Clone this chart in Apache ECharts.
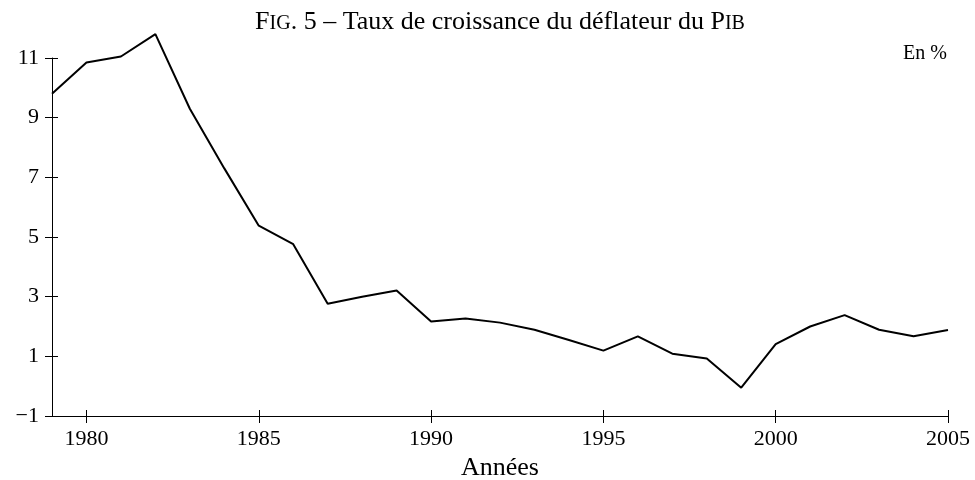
<!DOCTYPE html>
<html>
<head>
<meta charset="utf-8">
<script src="https://cdn.jsdelivr.net/npm/echarts@6/dist/echarts.min.js"></script>
<style>
  html, body { margin: 0; padding: 0; background: #fff; }
  #chart { width: 975px; height: 480px; }
</style>
</head>
<body>
<div id="chart"></div>
<script>
// Taux de croissance du déflateur du PIB, en %
const years = ['1979', '1980', '1981', '1982', '1983', '1984', '1985', '1986', '1987',
  '1988', '1989', '1990', '1991', '1992', '1993', '1994', '1995', '1996', '1997',
  '1998', '1999', '2000', '2001', '2002', '2003', '2004', '2005'];
const deflator = [9.8, 10.85, 11.05, 11.8, 9.3, 7.3, 5.38, 4.76, 2.76,
  3.0, 3.21, 2.17, 2.27, 2.13, 1.89, 1.55, 1.19, 1.67, 1.09,
  0.93, -0.05, 1.41, 2.0, 2.38, 1.89, 1.67, 1.88];
const yTicks = [-1, 1, 3, 5, 7, 9, 11];

const font = '"Liberation Serif", "DejaVu Serif", serif';
const everyFive = (i) => Number(years[i]) % 5 === 0;

const chart = echarts.init(document.getElementById('chart'));
const option = {
  animation: false,
  backgroundColor: '#fff',
  title: {
    text: '{a|F}{s|IG}{a|. 5 – Taux de croissance du déflateur du P}{s|IB}',
    left: 500,
    textAlign: 'center',
    top: 5,
    padding: 0,
    textStyle: {
      rich: {
        a: { fontFamily: font, fontSize: 26, fontWeight: 'normal', color: '#000', lineHeight: 30, verticalAlign: 'bottom' },
        s: { fontFamily: font, fontSize: 20, fontWeight: 'normal', color: '#000', lineHeight: 30, verticalAlign: 'bottom', padding: [0, 0, 1, 0] }
      }
    }
  },
  graphic: [{
    type: 'text',
    right: 28,
    top: 44,
    style: { text: 'En %', font: '20px ' + font, fill: '#000' }
  }],
  grid: { left: 52, right: 27, top: 58, bottom: 64, outerBoundsMode: 'none' },
  xAxis: [{
    type: 'category',
    data: years,
    boundaryGap: false,
    position: 'bottom',
    axisLine: { onZero: false, lineStyle: { color: '#000', width: 1 } },
    axisTick: { interval: everyFive, length: 7, lineStyle: { color: '#000' } },
    axisLabel: { interval: everyFive, margin: 12, fontFamily: font, fontSize: 22, color: '#000' },
    splitLine: { show: false },
    name: 'Années',
    nameLocation: 'middle',
    nameGap: 36,
    nameTextStyle: { fontFamily: font, fontSize: 26, color: '#000' }
  }, {
    type: 'category',
    data: years,
    boundaryGap: false,
    position: 'bottom',
    axisLine: { show: false, onZero: false },
    axisTick: { interval: everyFive, inside: true, length: 6, lineStyle: { color: '#000' } },
    axisLabel: { show: false },
    splitLine: { show: false }
  }],
  yAxis: [{
    type: 'value',
    min: -1,
    max: 11,
    interval: 2,
    position: 'left',
    axisLine: { show: true, onZero: false, lineStyle: { color: '#000', width: 1 } },
    axisTick: { show: true, length: 7, lineStyle: { color: '#000' } },
    axisLabel: {
      margin: 13, fontFamily: font, fontSize: 22, color: '#000',
      formatter: (v) => yTicks.includes(v) ? String(v).replace('-', '\u2212') : ''
    },
    splitLine: { show: false }
  }, {
    type: 'value',
    min: -1,
    max: 11,
    interval: 2,
    position: 'left',
    axisLine: { show: false, onZero: false },
    axisTick: { show: true, inside: true, length: 6, lineStyle: { color: '#000' } },
    axisLabel: { show: false },
    splitLine: { show: false }
  }],
  series: [{
    type: 'line',
    data: deflator,
    xAxisIndex: 0,
    yAxisIndex: 0,
    clip: false,
    showSymbol: false,
    symbol: 'none',
    lineStyle: { color: '#000', width: 2 }
  }]
};
chart.setOption(option);
</script>
</body>
</html>
